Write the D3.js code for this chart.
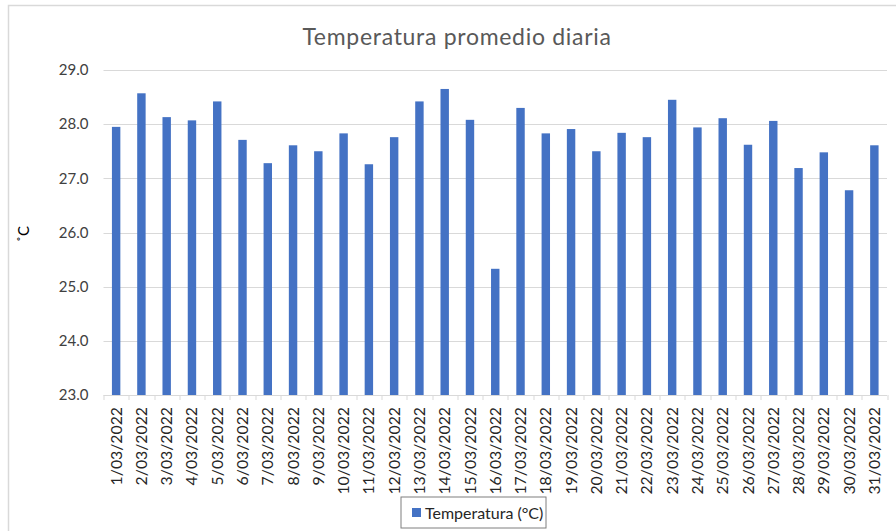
<!DOCTYPE html>
<html>
<head>
<meta charset="utf-8">
<script src="https://cdn.jsdelivr.net/npm/d3@7"></script>
<style>
  body { margin: 0; background: #ffffff; }
  svg { display: block; font-family: Lato, "Open Sans", sans-serif; }
</style>
</head>
<body>
<svg id="chart" width="896" height="531"></svg>
<script>
// data
const dias = ["1/03/2022", "2/03/2022", "3/03/2022", "4/03/2022", "5/03/2022", "6/03/2022",
    "7/03/2022", "8/03/2022", "9/03/2022", "10/03/2022", "11/03/2022", "12/03/2022",
    "13/03/2022", "14/03/2022", "15/03/2022", "16/03/2022", "17/03/2022", "18/03/2022",
    "19/03/2022", "20/03/2022", "21/03/2022", "22/03/2022", "23/03/2022", "24/03/2022",
    "25/03/2022", "26/03/2022", "27/03/2022", "28/03/2022", "29/03/2022", "30/03/2022",
    "31/03/2022"];
const temperaturas = [27.95, 28.57, 28.13, 28.07, 28.42, 27.71, 27.28, 27.61, 27.50, 27.83,
    27.26, 27.76, 28.42, 28.65, 28.08, 25.33, 28.30, 27.83, 27.91, 27.50, 27.84,
    27.76, 28.45, 27.94, 28.11, 27.62, 28.06, 27.19, 27.48, 26.78, 27.61];
const y_ticks = [23, 24, 25, 26, 27, 28, 29];
const titulo = "Temperatura promedio diaria";
const serie = "Temperatura (°C)";
const eje_y = "˚C";

const svg = d3.select("#chart");
const margin = {top: 70, right: 9, bottom: 136, left: 103.5};
const width = 896 - margin.left - margin.right;
const height = 531 - margin.top - margin.bottom;

// chart border (only top and left visible)
svg.append("path")
    .attr("d", "M8.5,531 V5.5 H896")
    .attr("fill", "none")
    .attr("stroke", "#d9d9d9")
    .attr("stroke-width", 1.5);

svg.append("text")
    .attr("x", 457)
    .attr("y", 45)
    .attr("text-anchor", "middle")
    .attr("font-size", 23)
    .attr("letter-spacing", 0.7)
    .attr("fill", "#595959")
    .text(titulo);

const g = svg.append("g").attr("transform", `translate(${margin.left},${margin.top})`);

const x = d3.scaleBand()
    .domain(dias)
    .range([0, width])
    .paddingInner(2 / 3)
    .paddingOuter(1 / 3);

const y = d3.scaleLinear()
    .domain([23, 29])
    .range([height, 0]);

// gridlines
g.selectAll("line.grid")
    .data(y_ticks)
    .enter()
    .append("line")
    .attr("class", "grid")
    .attr("x1", 0)
    .attr("x2", width)
    .attr("y1", d => Math.round(y(d)) + 0.5)
    .attr("y2", d => Math.round(y(d)) + 0.5)
    .attr("stroke", "#d9d9d9")
    .attr("stroke-width", 1);

// y tick labels
g.selectAll("text.ytick")
    .data(y_ticks)
    .enter()
    .append("text")
    .attr("class", "ytick")
    .attr("x", -15)
    .attr("y", d => y(d))
    .attr("dy", "0.35em")
    .attr("text-anchor", "end")
    .attr("font-size", 15)
    .attr("fill", "#404040")
    .text(d => d.toFixed(1));

// bars
g.selectAll("rect.bar")
    .data(temperaturas)
    .enter()
    .append("rect")
    .attr("class", "bar")
    .attr("x", (d, i) => x(dias[i]))
    .attr("y", d => y(d))
    .attr("width", x.bandwidth())
    .attr("height", d => height - y(d))
    .attr("fill", "#4472c4");

// x tick marks between categories
const step = x.step();
g.selectAll("line.xtick")
    .data(d3.range(dias.length + 1))
    .enter()
    .append("line")
    .attr("class", "xtick")
    .attr("x1", i => Math.round(i * step) + 0.5)
    .attr("x2", i => Math.round(i * step) + 0.5)
    .attr("y1", height)
    .attr("y2", height + 5)
    .attr("stroke", "#d9d9d9");

// x labels, rotated
g.selectAll("text.xlabel")
    .data(dias)
    .enter()
    .append("text")
    .attr("class", "xlabel")
    .attr("transform", d => `translate(${x(d) + x.bandwidth() / 2},${height + 12}) rotate(-90)`)
    .attr("dy", "0.35em")
    .attr("text-anchor", "end")
    .attr("font-size", 15.8)
    .attr("fill", "#262626")
    .text(d => d);

// y axis title
svg.append("text")
    .attr("transform", "translate(24,234) rotate(-90)")
    .attr("dy", "0.35em")
    .attr("text-anchor", "middle")
    .attr("font-size", 15)
    .attr("fill", "#000000")
    .text(eje_y);

// legend
const legend = svg.append("g").attr("transform", "translate(401,497)");
legend.append("rect")
    .attr("width", 145)
    .attr("height", 31)
    .attr("fill", "#ffffff")
    .attr("stroke", "#7f7f7f");
legend.append("rect")
    .attr("x", 11)
    .attr("y", 11)
    .attr("width", 9)
    .attr("height", 9)
    .attr("fill", "#4472c4");
legend.append("text")
    .attr("x", 24)
    .attr("y", 16)
    .attr("dy", "0.35em")
    .attr("font-size", 16)
    .attr("fill", "#262626")
    .text(serie);
</script>
</body>
</html>
